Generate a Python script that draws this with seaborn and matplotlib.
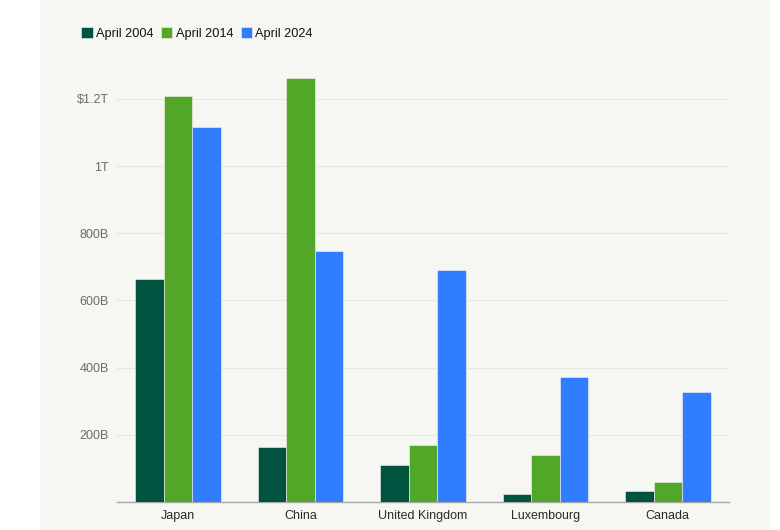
import numpy as np
import pandas as pd
import matplotlib
matplotlib.use("Agg")
import matplotlib.pyplot as plt
from matplotlib.patches import Rectangle, Patch
import seaborn as sns

# data (billions of USD)
countries = ["Japan", "China", "United Kingdom", "Luxembourg", "Canada"]
series = ["April 2004", "April 2014", "April 2024"]
apr2004 = [664, 165, 111, 25, 33]
apr2014 = [1208, 1262, 171, 140, 59]
apr2024 = [1115, 747, 690, 372, 327]
ytick_vals = [200, 400, 600, 800, 1000, 1200]
ytick_labels = ["200B", "400B", "600B", "800B", "1T", "$1.2T"]

colors = ["#00533f", "#52a628", "#317dff"]

df = pd.DataFrame({
    "country": countries * 3,
    "period": np.repeat(series, len(countries)),
    "value": apr2004 + apr2014 + apr2024,
})

sns.set_theme(style="white")
plt.rcParams["font.family"] = ["Liberation Sans", "DejaVu Sans"]

fig = plt.figure(figsize=(7.8, 5.3), dpi=100)
fig.patch.set_facecolor("white")
# beige panel
fig.patches.append(Rectangle((40 / 780, 0), 730 / 780, 1, transform=fig.transFigure,
                             facecolor="#f6f6f2", edgecolor="none", zorder=-10))

ax = fig.add_axes([117 / 780, 28 / 530, 612 / 780, 432 / 530])
ax.set_facecolor("none")

sns.barplot(data=df, x="country", y="value", hue="period", order=countries,
            hue_order=series, palette=colors, saturation=1, width=0.7, gap=0, ax=ax,
            edgecolor="#f6f6f2", linewidth=0.4, legend=False, zorder=3)

ax.set_ylim(0, 1286)
ax.set_xlim(-0.5, 4.5)
ax.set_yticks(ytick_vals)
ax.set_yticklabels(ytick_labels)
ax.yaxis.grid(True, color="#e6e6e2", linewidth=0.8, zorder=0)
ax.set_axisbelow(True)
ax.tick_params(axis="y", length=0, labelsize=9, labelcolor="#6b6b6b", pad=6)
ax.tick_params(axis="x", length=0, labelsize=9, labelcolor="#2a2a2a", pad=6)
ax.set_xlabel("")
ax.set_ylabel("")
for s in ["top", "right", "left"]:
    ax.spines[s].set_visible(False)
ax.spines["bottom"].set_color("#a8a8a8")
ax.spines["bottom"].set_linewidth(1)

handles = [Patch(facecolor=c, edgecolor="#f6f6f2", linewidth=0.4) for c in colors]
fig.legend(handles, series, loc="upper left", bbox_to_anchor=(81 / 780, 1 - 27 / 530),
           ncol=3, frameon=False, fontsize=9.2, handlelength=0.9, handleheight=0.95,
           handletextpad=0.25, columnspacing=0.6, borderaxespad=0, borderpad=0,
           labelcolor="#111111")

fig.savefig("out.png", dpi=100)
